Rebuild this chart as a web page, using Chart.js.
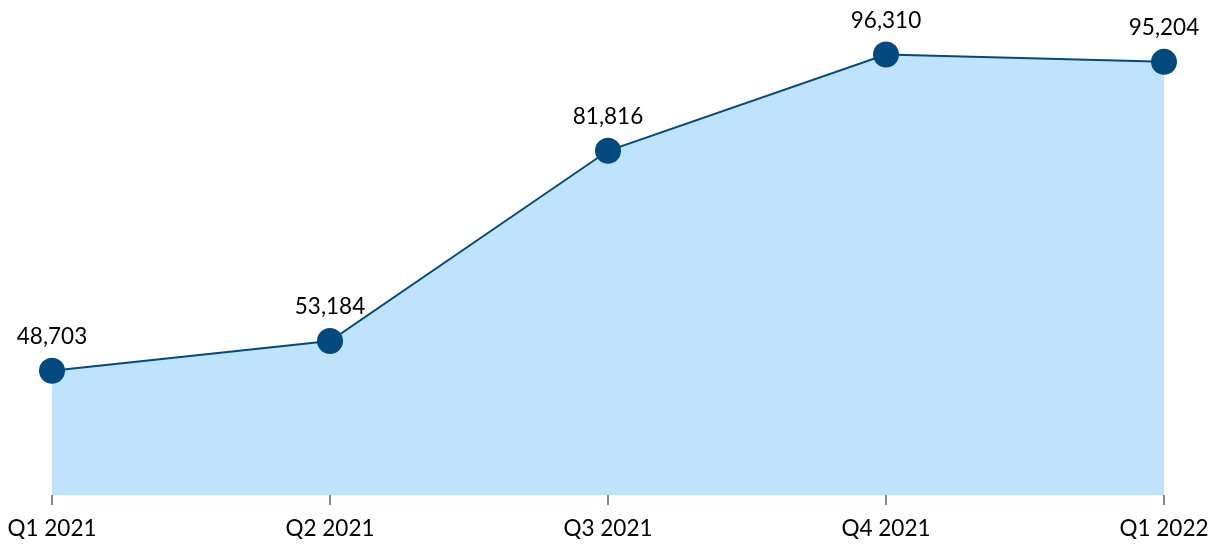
<!DOCTYPE html>
<html>
<head>
<meta charset="utf-8">
<script src="https://cdn.jsdelivr.net/npm/chart.js@4"></script>
<style>
  html, body { margin: 0; padding: 0; background: #fff; }
  #wrap { width: 1218px; height: 544px; }
</style>
</head>
<body>
<div id="wrap"><canvas id="myChart" width="1218" height="544"></canvas></div>
<script>
let quarters = ['Q1 2021', 'Q2 2021', 'Q3 2021', 'Q4 2021', 'Q1 2022'];
let totals = [48703, 53184, 81816, 96310, 95204];

const lineColor = '#004A80';
const fillColor = '#BFE3FD';

// draws the number above each point
const pointLabels = {
    id: 'pointLabels',
    afterDatasetsDraw(chart) {
        const ctx = chart.ctx;
        const meta = chart.getDatasetMeta(0);
        ctx.save();
        ctx.font = '22.5px Lato';
        ctx.fillStyle = '#000';
        ctx.textAlign = 'center';
        ctx.textBaseline = 'middle';
        meta.data.forEach(function(pt, i) {
            ctx.fillText(totals[i].toLocaleString('en-US'), pt.x, pt.y - 34);
        });
        ctx.restore();
    }
};

let chartElement = document.getElementById('myChart').getContext('2d');

let myChart = new Chart(chartElement, {
    type: 'line',
    data: {
        labels: quarters,
        datasets: [{
            data: totals,
            borderColor: lineColor,
            borderWidth: 2,
            backgroundColor: fillColor,
            fill: 'start',
            pointRadius: 13,
            pointBackgroundColor: lineColor,
            pointBorderColor: lineColor,
            pointBorderWidth: 0,
            tension: 0
        }]
    },
    options: {
        responsive: false,
        animation: false,
        layout: { padding: { left: 52, right: 54, top: 30, bottom: 5 } },
        plugins: {
            legend: { display: false },
            tooltip: { enabled: false }
        },
        scales: {
            x: {
                offset: false,
                afterFit: function(scale) {
                    scale.height = 44;
                    scale.paddingLeft = 0;
                    scale.paddingRight = 0;
                },
                border: { display: false },
                grid: {
                    drawOnChartArea: false,
                    drawTicks: true,
                    tickLength: 10,
                    color: '#888',
                    lineWidth: 2
                },
                ticks: {
                    padding: 10,
                    color: '#000',
                    maxRotation: 0,
                    font: { family: 'Lato', size: 22.5 }
                }
            },
            y: {
                display: false,
                min: 30000,
                max: 100000
            }
        }
    },
    plugins: [pointLabels]
});
</script>
</body>
</html>
